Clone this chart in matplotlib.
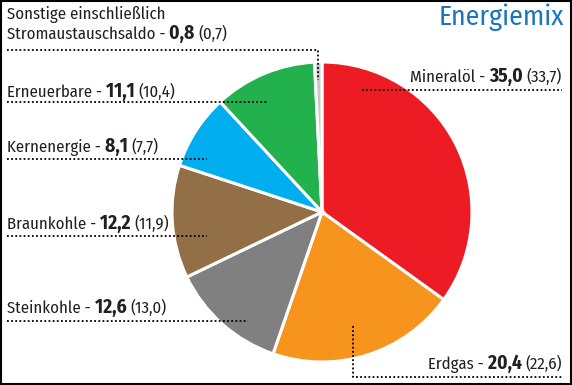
import matplotlib
matplotlib.use("Agg")
import matplotlib.pyplot as plt
from matplotlib import font_manager

# shares 2014 (previous year in brackets), clockwise from 12 o'clock
sources = ["Mineralöl", "Erdgas", "Steinkohle", "Braunkohle",
           "Kernenergie", "Erneuerbare", "Sonstige"]
values = [35.0, 20.4, 12.6, 12.2, 8.1, 11.1, 0.8]
prev = ["33,7", "22,6", "13,0", "11,9", "7,7", "10,4", "0,7"]
shown = ["35,0", "20,4", "12,6", "12,2", "8,1", "11,1", "0,8"]
colors = ["#ED1C24", "#F7941D", "#808080", "#936F47",
          "#00AEEF", "#22B14C", "#C8C8C8"]

names = {f.name for f in font_manager.fontManager.ttflist}
FAM = "DejaVu Sans"
for cand in ["Fira Sans Condensed", "PT Sans Narrow", "Roboto Condensed",
             "Open Sans Condensed", "Archivo Narrow"]:
    if cand in names:
        FAM = cand
        break
TXT = "#231F20"

W, H = 572, 385
fig = plt.figure(figsize=(W / 100, H / 100), dpi=100)
ax = fig.add_axes([0, 0, 1, 1])
ax.set_xlim(0, W)
ax.set_ylim(0, H)
ax.set_aspect("equal")
ax.axis("off")


def py(y):
    return H - y


# pie
ax.pie(values, colors=colors, startangle=90, counterclock=False,
       center=(322, py(212)), radius=150,
       wedgeprops=dict(edgecolor="white", linewidth=2.2))
ax.set_xlim(0, W)
ax.set_ylim(0, H)

# frame
ax.add_patch(plt.Rectangle((1, 1), W - 2, H - 2, fill=False, ec="black", lw=1.5))

ax.text(564, py(25), "Energiemix", family=FAM, fontsize=20, color="#1C75BC",
        ha="right", va="baseline")

renderer = fig.canvas.get_renderer()


def label(x, y, parts, align="left"):
    # parts: list of (text, size, weight)
    arts = []
    for s, size, weight in parts:
        t = ax.text(0, py(y), s, family=FAM, fontsize=size, fontweight=weight,
                    color=TXT, ha="left", va="baseline")
        arts.append(t)
    widths = [a.get_window_extent(renderer).width for a in arts]
    total = sum(widths)
    cur = x if align == "left" else x - total
    for a, w in zip(arts, widths):
        a.set_x(cur)
        cur += w


def entry(x, y, name, i, align="left"):
    label(x, y, [(name + " - ", 12, "normal"), (shown[i] + " ", 14, "bold"),
                 ("(" + prev[i] + ")", 12, "normal")], align)


def dots(xs, ys):
    ax.plot(xs, [py(v) for v in ys], color="black", lw=1.3,
            linestyle=(0, (1, 1.3)))


# left side
ax.text(7, py(19), "Sonstige einschließlich", family=FAM, fontsize=12,
        color=TXT, va="baseline")
entry(7, 39, "Stromaustauschsaldo", 6)
dots([7, 318, 318], [50, 50, 80])
entry(7, 97, sources[5], 5)
dots([7, 268], [102, 102])
entry(7, 152, sources[4], 4)
dots([7, 207], [159, 159])
entry(7, 229, sources[3], 3)
dots([7, 207], [236, 236])
entry(7, 313, sources[2], 2)
dots([7, 248], [321, 321])

# right side
entry(562, 82, sources[0], 0, align="right")
dots([362, 562], [90, 90])
entry(562, 369, sources[1], 1, align="right")
dots([353, 353, 562], [326, 377, 377])

fig.savefig("out.png", dpi=100)
